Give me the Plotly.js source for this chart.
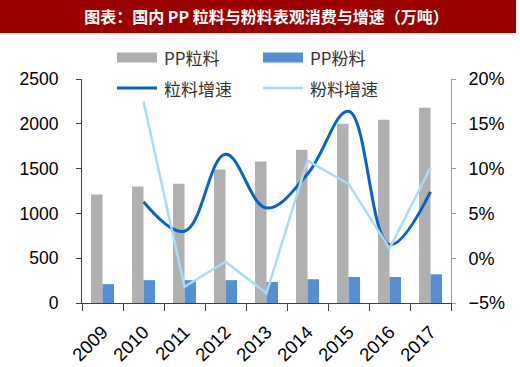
<!DOCTYPE html>
<html>
<head>
<meta charset="utf-8">
<script src="https://cdn.plot.ly/plotly-3.0.1.min.js"></script>
<style>html,body{margin:0;padding:0;background:#fff;}#chart{width:520px;height:367px;}</style>
</head>
<body>
<div id="chart"></div>
<script>
const years = ['2009','2010','2011','2012','2013','2014','2015','2016','2017'];
const granule = [1210, 1300, 1330, 1490, 1580, 1710, 2000, 2045, 2180];
const powder = [210, 255, 255, 255, 235, 265, 290, 290, 320];
const granuleGrowth = [null, 6.3, 3.0, 11.6, 5.6, 9.4, 16.4, 1.5, 7.4];
const powderGrowth = [null, 17.5, -3.2, -0.4, -3.9, 10.9, 8.3, 1.1, 10.1];
const names = ['PP粒料', 'PP粉料', '粒料增速', '粉料增速'];
const colors = ['#B0B0B0', '#558ED5', '#0A62C6', '#A9DBF6'];
const titleText = '图表：国内 PP 粒料与粉料表观消费与增速（万吨）';

const tickFont = {family: 'Liberation Sans, Arial, sans-serif', size: 17, color: '#000'};
const cjk = 'Noto Sans CJK SC, sans-serif';

const traces = [
  {type: 'bar', x: years, y: granule, name: names[0], marker: {color: colors[0]}, yaxis: 'y'},
  {type: 'bar', x: years, y: powder, name: names[1], marker: {color: colors[1]}, yaxis: 'y'},
  {type: 'scatter', mode: 'lines', x: years, y: granuleGrowth, name: names[2], yaxis: 'y2',
   line: {color: colors[2], width: 3, shape: 'spline', smoothing: 1.1}},
  {type: 'scatter', mode: 'lines', x: years, y: powderGrowth, name: names[3], yaxis: 'y2',
   line: {color: colors[3], width: 2.5}}
];

const L = 82, R = 69, T = 79, B = 64, W = 520, H = 367;
const pw = W - L - R, ph = H - T - B;
const px = v => (v - L) / pw;          // pixel x -> paper x
const py = v => (ph + T - v) / ph;     // pixel y -> paper y

// custom legend: 2 columns x 2 rows
const legCols = [117, 263], legRows = [57.5, 88];
const shapes = [{type: 'rect', xref: 'paper', yref: 'paper', layer: 'below',
                 x0: px(0), x1: px(516), y0: py(33), y1: py(0),
                 fillcolor: '#9A0000', line: {width: 0}}];
const annotations = [];
names.forEach((nm, i) => {
  const cx = legCols[i % 2], cy = legRows[Math.floor(i / 2)];
  if (i < 2) {
    shapes.push({type: 'rect', xref: 'paper', yref: 'paper', x0: px(cx), x1: px(cx + 40),
                 y0: py(cy + 5), y1: py(cy - 5), fillcolor: colors[i], line: {width: 0}});
  } else {
    shapes.push({type: 'line', xref: 'paper', yref: 'paper', x0: px(cx), x1: px(cx + 40),
                 y0: py(cy), y1: py(cy), line: {color: colors[i], width: i === 2 ? 3 : 2.5}});
  }
  annotations.push({xref: 'paper', yref: 'paper', x: px(cx + 45), y: py(cy), xanchor: 'left',
                    yanchor: 'middle', showarrow: false, text: nm,
                    font: {family: cjk, size: 17, color: '#333'}});
});

const layout = {
  width: W, height: H,
  margin: {l: L, r: R, t: T, b: B, pad: 0},
  paper_bgcolor: '#fff', plot_bgcolor: '#fff',
  showlegend: false,
  barmode: 'group', bargap: 0.44, bargroupgap: 0,
  title: {text: '<b>' + titleText + '</b>', x: 0.5, xanchor: 'center', xref: 'paper',
          y: 1 - 17 / H, yanchor: 'middle', yref: 'container',
          font: {family: cjk, size: 16, color: '#fff'}},
  shapes: shapes,
  annotations: annotations,
  xaxis: {type: 'category', showline: true, linecolor: '#404040', linewidth: 1,
          ticks: 'outside', ticklen: 7, tickcolor: '#404040', tickson: 'boundaries',
          tickangle: -45, tickfont: Object.assign({}, tickFont, {size: 18.5}),
          showgrid: false, zeroline: false, range: [-0.5, 8.5], ticklabelstandoff: 10},
  yaxis: {range: [0, 2500], dtick: 500, showline: true, linecolor: '#404040', linewidth: 1,
          ticks: 'outside', ticklen: 5, tickcolor: '#404040',
          tickfont: Object.assign({}, tickFont, {size: 17.5}),
          showgrid: false, zeroline: false, ticklabelstandoff: 14},
  yaxis2: {overlaying: 'y', side: 'right', range: [-5, 20], dtick: 5, ticksuffix: '%',
           showline: true, linecolor: '#999', linewidth: 1, ticks: 'outside', ticklen: 4,
           tickcolor: '#999', tickfont: Object.assign({}, tickFont, {size: 18}),
           showgrid: false, zeroline: false, ticklabelstandoff: 9}
};

Plotly.newPlot('chart', traces, layout, {displayModeBar: false, staticPlot: true});
</script>
</body>
</html>
